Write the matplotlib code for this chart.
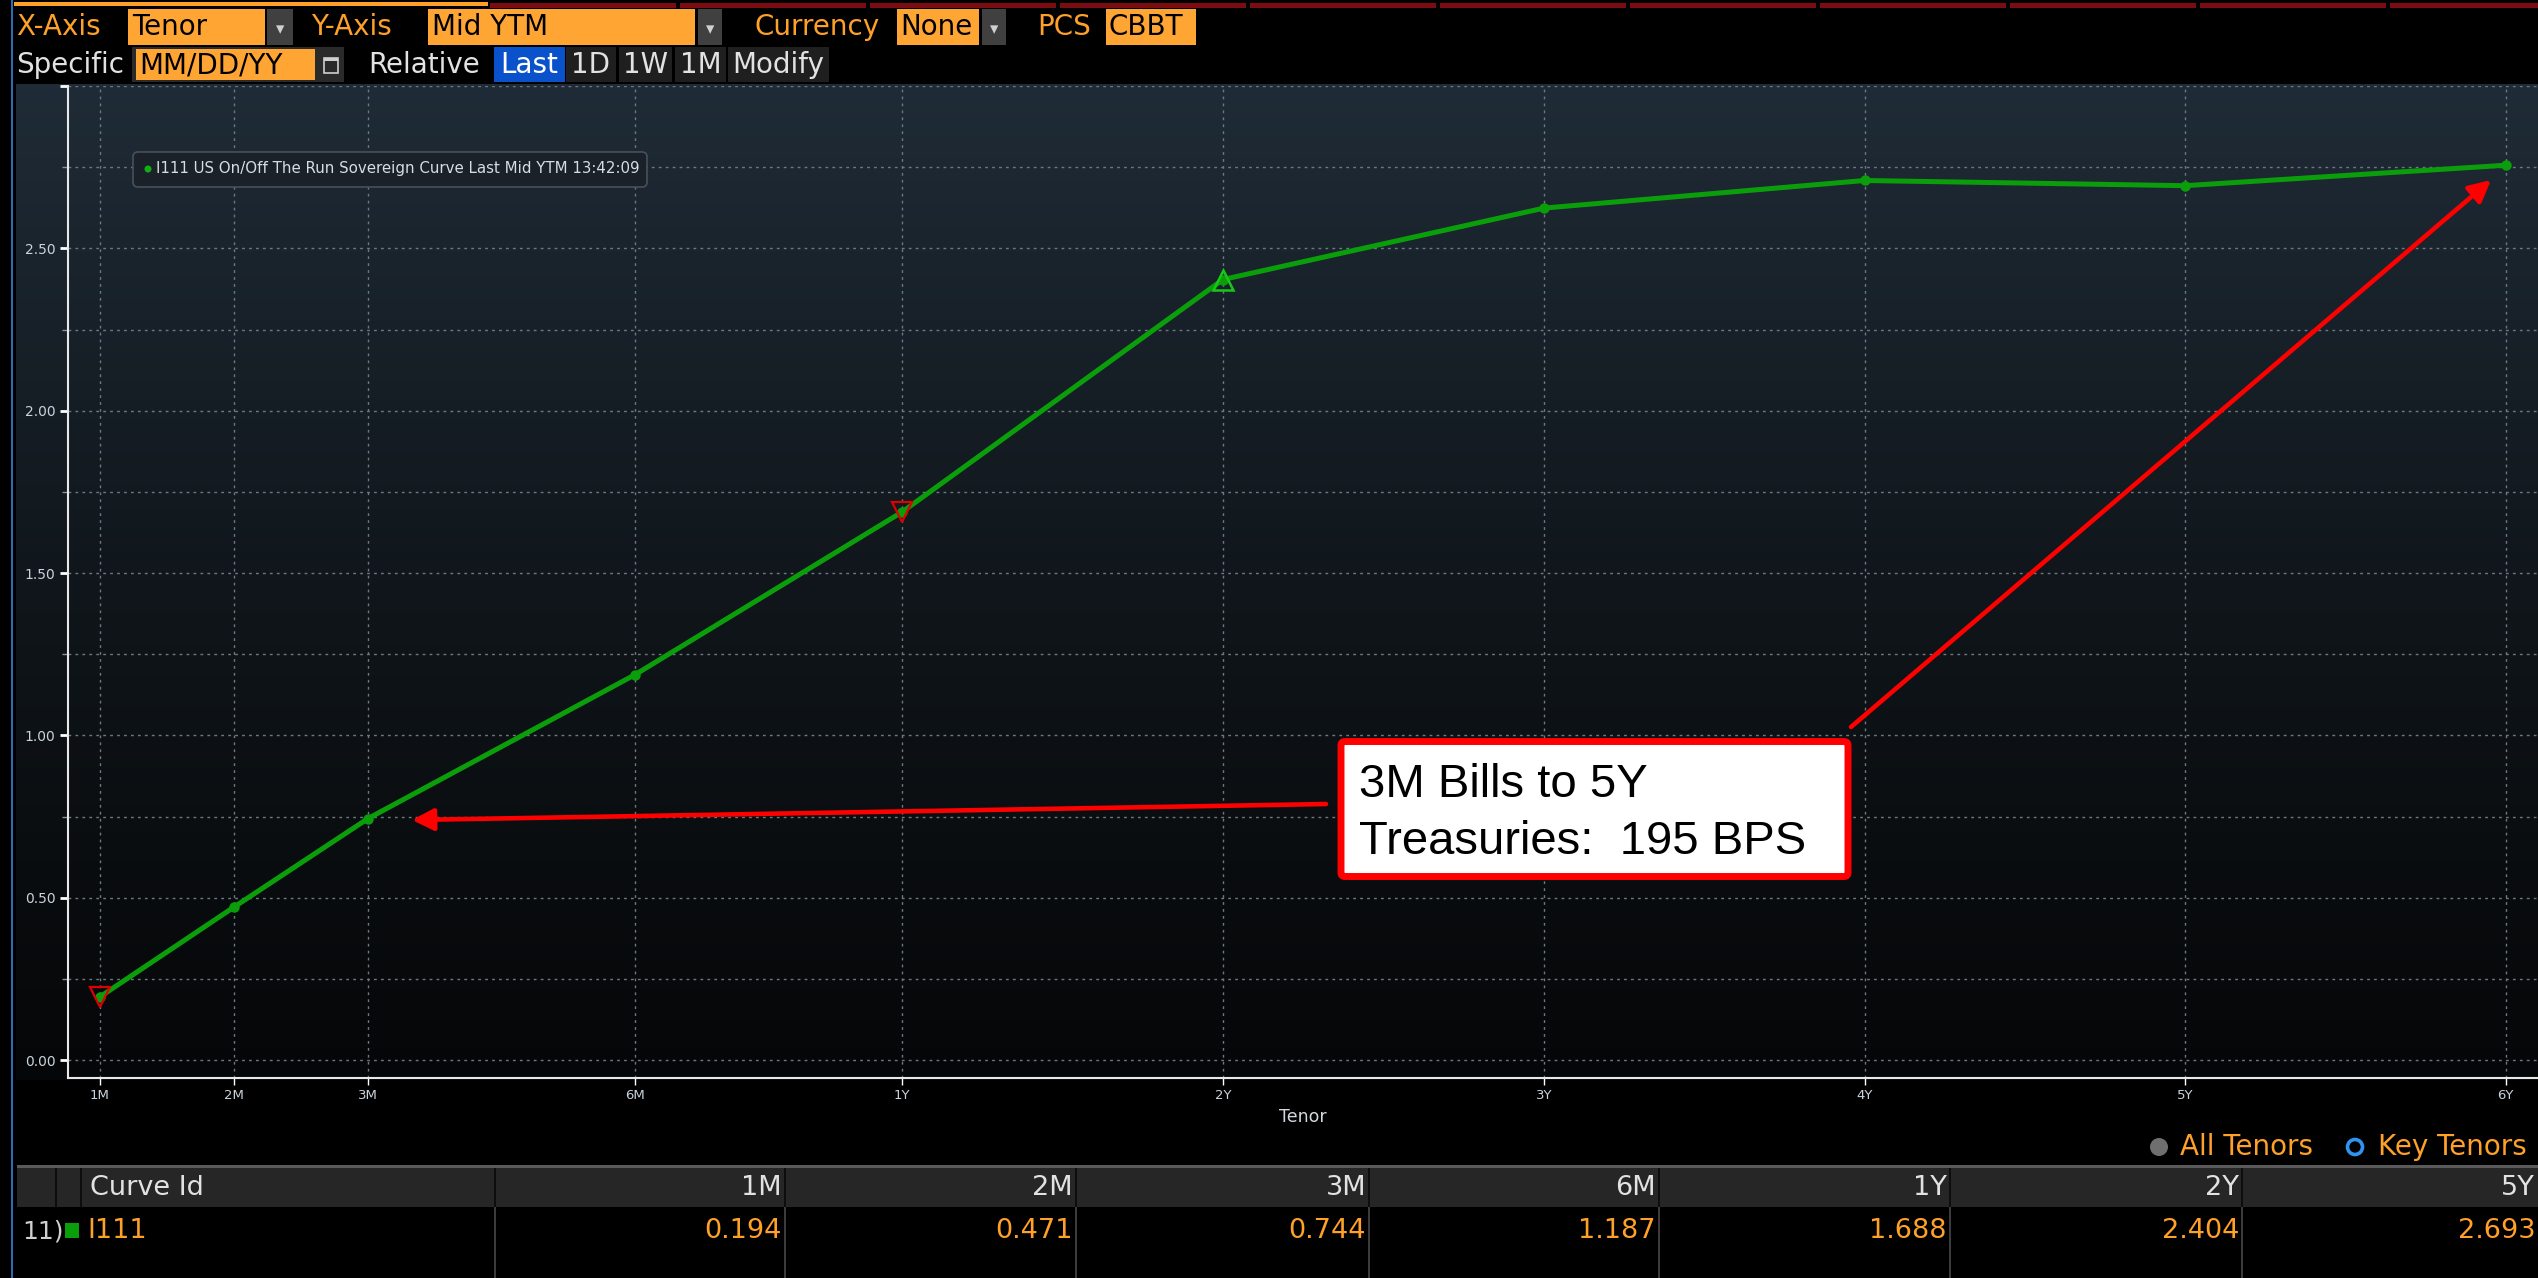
import numpy as np
import matplotlib
matplotlib.use('Agg')
import matplotlib.pyplot as plt
from matplotlib.patches import Rectangle, FancyBboxPatch, Circle
from matplotlib.transforms import IdentityTransform
from matplotlib.ticker import FixedLocator, FuncFormatter, NullLocator
from matplotlib.colors import LinearSegmentedColormap

# ---------------- data ----------------
tenors = ['1M', '2M', '3M', '6M', '1Y', '2Y', '3Y', '4Y', '5Y', '6Y']
tenor_years = [1/12, 2/12, 3/12, 0.5, 1, 2, 3, 4, 5, 6]
mid_ytm = [0.194, 0.471, 0.744, 1.187, 1.688, 2.404, 2.624, 2.709, 2.693, 2.756]
down_flag_tenors = ['1M', '1Y']
up_flag_tenors = ['2Y']
key_tenors = ['1M', '2M', '3M', '6M', '1Y', '2Y', '5Y']
y_major = [0.0, 0.5, 1.0, 1.5, 2.0, 2.5, 3.0]
y_minor = [0.25, 0.75, 1.25, 1.75, 2.25, 2.75]
legend_label = 'I111 US On/Off The Run Sovereign Curve Last Mid YTM 13:42:09'
curve_id = 'I111'
note_lines = ['3M Bills to 5Y', 'Treasuries:  195 BPS']

# ---------------- styling ----------------
W, H = 2538, 1278
ORANGE = '#ffa028'
OBOX = '#ffa534'
GREEN = '#0b9e0b'
TXT = '#e2e2e2'
UI_FONT = 'DejaVu Sans'

fig = plt.figure(figsize=(W / 100, H / 100), dpi=100, facecolor='black')
PIX = IdentityTransform()


def R(x0, y0, x1, y1, **kw):
    p = Rectangle((x0, H - y1), x1 - x0, y1 - y0, transform=PIX, **kw)
    fig.add_artist(p)
    return p


def T(x, y, s, **kw):
    kw.setdefault('va', 'center')
    kw.setdefault('family', UI_FONT)
    kw.setdefault('size', 20)
    return fig.text(x, H - y, s, transform=PIX, **kw)


# ---- top strip ----
R(14, 2, 488, 6, fc=ORANGE, lw=0)
x = 490
while x < W:
    R(x, 3, min(x + 186, W), 8, fc='#7a0c12', lw=0)
    x += 190

# ---- row 1 ----
y1 = 27
T(16, y1, 'X-Axis', color=ORANGE)
R(128, 9, 265, 45, fc=OBOX, lw=0); T(132, y1, 'Tenor', color='black')
R(267, 9, 293, 45, fc='#404040', lw=0); T(280, y1 + 2, '▾', color='#d0d0d0', ha='center', size=12)
T(311, y1, 'Y-Axis', color=ORANGE)
R(428, 9, 695, 45, fc=OBOX, lw=0); T(432, y1, 'Mid YTM', color='black')
R(698, 9, 722, 45, fc='#404040', lw=0); T(710, y1 + 2, '▾', color='#d0d0d0', ha='center', size=12)
T(754, y1, 'Currency', color=ORANGE)
R(897, 9, 979, 45, fc=OBOX, lw=0); T(900, y1, 'None', color='black')
R(982, 9, 1006, 45, fc='#404040', lw=0); T(994, y1 + 2, '▾', color='#d0d0d0', ha='center', size=12)
T(1037, y1, 'PCS', color=ORANGE)
R(1106, 9, 1196, 45, fc=OBOX, lw=0); T(1109, y1, 'CBBT', color='black')

# ---- row 2 ----
y2 = 65
T(16, y2, 'Specific', color=TXT)
R(132, 47, 344, 82, fc='#2a2a2a', lw=0)
R(136, 49, 315, 80, fc=OBOX, lw=0); T(139, y2, 'MM/DD/YY', color='black')
R(324, 58, 338, 73, fc='none', ec='#cfcfcf', lw=1.2)
R(324, 58, 338, 61, fc='#cfcfcf', lw=0)
T(368, y2, 'Relative', color=TXT)
R(494, 47, 565, 82, fc='#0a52cc', lw=0); T(529.5, y2, 'Last', color='white', ha='center')
for (a, b, s) in [(566, 616, '1D'), (619, 672, '1W'), (675, 726, '1M'), (728, 829, 'Modify')]:
    R(a, 47, b, 82, fc='#1f1f1f', lw=0)
    T((a + b) / 2, y2, s, color=TXT, ha='center')

# ---- left blue border ----
R(11, 0, 13, H, fc='#2c6cb4', lw=0)

# ---- gradient panel ----
bg = fig.add_axes([16 / W, 1 - 1080 / H, (W - 16) / W, (1080 - 84) / H], zorder=0)
cmap = LinearSegmentedColormap.from_list('bb', ['#050607', '#10161b', '#1f2b36'])
grad = np.linspace(0, 1, 256).reshape(-1, 1)
bg.imshow(grad, aspect='auto', cmap=cmap, origin='lower', extent=[0, 1, 0, 1])
bg.set_axis_off()

# ---- main axes ----
ax = fig.add_axes([68 / W, 1 - 1078 / H, (W - 68) / W, (1078 - 86) / H], zorder=1)
ax.set_facecolor('none')

KEY_YRS = np.array(tenor_years, dtype=float)
KEY_PX = np.array([99.5, 233.8, 368, 635, 902, 1223, 1544, 1864.5, 2185, 2505.6])
SLOPE_LO = (KEY_PX[1] - KEY_PX[0]) / (KEY_YRS[1] - KEY_YRS[0])
SLOPE_HI = (KEY_PX[-1] - KEY_PX[-2]) / (KEY_YRS[-1] - KEY_YRS[-2])


def fwd(v):
    v = np.asarray(v, dtype=float)
    out = np.interp(v, KEY_YRS, KEY_PX)
    out = np.where(v < KEY_YRS[0], KEY_PX[0] + (v - KEY_YRS[0]) * SLOPE_LO, out)
    out = np.where(v > KEY_YRS[-1], KEY_PX[-1] + (v - KEY_YRS[-1]) * SLOPE_HI, out)
    return out


def inv(p):
    p = np.asarray(p, dtype=float)
    out = np.interp(p, KEY_PX, KEY_YRS)
    out = np.where(p < KEY_PX[0], KEY_YRS[0] + (p - KEY_PX[0]) / SLOPE_LO, out)
    out = np.where(p > KEY_PX[-1], KEY_YRS[-1] + (p - KEY_PX[-1]) / SLOPE_HI, out)
    return out


ax.set_xscale('function', functions=(fwd, inv))

ax.plot(tenor_years, mid_ytm, color=GREEN, lw=3.6, marker='o', ms=6.5,
        solid_capstyle='round', zorder=3)
for t in down_flag_tenors:
    i = tenors.index(t)
    ax.plot([tenor_years[i]], [mid_ytm[i]], marker='v', ms=14.5, mfc='none',
            mec='#e00000', mew=1.6, zorder=4, ls='none')
for t in up_flag_tenors:
    i = tenors.index(t)
    ax.plot([tenor_years[i]], [mid_ytm[i]], marker='^', ms=14.5, mfc='none',
            mec='#18c818', mew=1.8, zorder=4, ls='none')

ax.set_xlim(float(inv(68.0)), float(inv(2538.0)))
ax.set_ylim(-0.055, 3.0)

ax.xaxis.set_major_locator(FixedLocator(tenor_years))
ax.xaxis.set_major_formatter(FuncFormatter(
    lambda v, pos: tenors[pos] if pos is not None and pos < len(tenors) else ''))
ax.xaxis.set_minor_locator(NullLocator())
ax.yaxis.set_major_locator(FixedLocator(y_major))
ax.yaxis.set_minor_locator(FixedLocator(y_minor))
ax.yaxis.set_major_formatter(FuncFormatter(lambda v, pos: '' if v > 2.9 else f'{v:.2f}'))

gl = dict(color='#6d7883', lw=1.0, ls=(0, (2, 3)))
ax.xaxis.grid(True, which='major', **gl)
ax.yaxis.grid(True, which='major', **gl)
ax.yaxis.grid(True, which='minor', **gl)

for s in ['top', 'right']:
    ax.spines[s].set_visible(False)
for s in ['left', 'bottom']:
    ax.spines[s].set_color('#e8e8e8')
    ax.spines[s].set_linewidth(1.5)

ax.tick_params(axis='y', which='major', direction='out', length=6, width=2,
               color='white', labelsize=10, labelcolor='#c9d3dc', pad=3)
ax.tick_params(axis='y', which='minor', direction='out', length=4, width=1,
               color='#8a939c')
ax.tick_params(axis='x', which='major', direction='out', length=5, width=1,
               color='white', labelsize=9.5, labelcolor='#c9d3dc', pad=3)
ax.set_xlabel('Tenor', color='#d0d8e0', fontsize=12.5, labelpad=4)

# ---- legend box ----
lb = FancyBboxPatch((133, H - 187), 514, 35, boxstyle='round,pad=0,rounding_size=5',
                    transform=PIX, fc='#1a2129', ec='#46515b', lw=1.2, zorder=5)
fig.add_artist(lb)
fig.add_artist(Circle((148, H - 169), 3.5, transform=PIX, fc='#10b010', ec='none', zorder=6))
T(156, 169, legend_label, color='#d8dde2', size=10.8, zorder=6)

# ---- annotation arrows ----
arrow_kw = dict(arrowstyle='-|>,head_length=0.65,head_width=0.33', mutation_scale=20,
                color='#ff0000', lw=3.3, shrinkA=0, shrinkB=0)
fig.add_artist(matplotlib.text.Annotation('', xy=(412, H - 820), xycoords='figure pixels',
                                          xytext=(1326, H - 804), textcoords='figure pixels',
                                          arrowprops=arrow_kw))
fig.add_artist(matplotlib.text.Annotation('', xy=(2491, H - 180), xycoords='figure pixels',
                                          xytext=(1851, H - 727), textcoords='figure pixels',
                                          arrowprops=arrow_kw))

# ---- annotation box ----
nb = FancyBboxPatch((1341, H - 876.5), 507, 135, boxstyle='round,pad=0,rounding_size=4',
                    transform=PIX, fc='white', ec='#ff0000', lw=5.0, zorder=7)
fig.add_artist(nb)
T(1359, 797, note_lines[0], color='black', size=34, family='Liberation Sans',
  va='baseline', zorder=8)
T(1359, 854, note_lines[1], color='black', size=34, family='Liberation Sans',
  va='baseline', zorder=8)

# ---- tenor toggle ----
fig.add_artist(Circle((2159, H - 1147), 9, transform=PIX, fc='#6f6f6f', ec='none'))
T(2180, 1147, 'All Tenors', color=ORANGE)
fig.add_artist(Circle((2355, H - 1147), 7.5, transform=PIX, fc='none', ec='#2f93f0', lw=2.6))
T(2378, 1147, 'Key Tenors', color=ORANGE)

# ---- table ----
col_edges = [495, 785, 1076, 1369, 1659, 1950, 2242, 2538]
R(17, 1165, W, 1168, fc='#5a5a5a', lw=0)
R(17, 1168, W, 1207, fc='#262626', lw=0)
for xe in [56, 81] + col_edges[:-1]:
    R(xe - 1, 1168, xe + 1, 1207, fc='#0d0d0d', lw=0)
for xe in col_edges[:-1]:
    R(xe - 0.75, 1207, xe + 0.75, H, fc='#3c3c3c', lw=0)
T(90, 1188, 'Curve Id', color=TXT, size=19.5)
for k, t in enumerate(key_tenors):
    xr = col_edges[k + 1] - 3
    T(xr, 1188, t, color=TXT, size=19.5, ha='right')
    T(xr, 1231, f'{mid_ytm[tenors.index(t)]:.3f}', color=ORANGE, size=19.5, ha='right')
T(22, 1231, '11)', color='#d0d0d0', size=18)
R(65, 1223, 79, 1238, fc=GREEN, lw=0)
T(87, 1231, curve_id, color=ORANGE, size=19.5)

fig.savefig('out.png', dpi=100, facecolor='black')
